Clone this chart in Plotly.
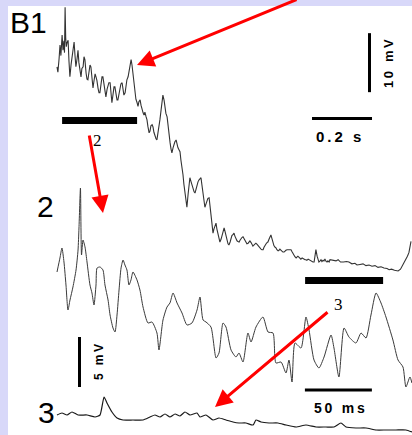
import plotly.graph_objects as go

# ---- B1: slow sweep (time in ms, membrane potential in mV, relative) ----
b1_t = [0, 3, 7, 10, 13, 17, 20, 23, 25, 27,
        29, 31, 33, 37, 40, 43, 47, 50, 53, 57,
        60, 63, 67, 70, 73, 77, 80, 83, 87, 90,
        93, 97, 100, 103, 107, 110, 113, 117, 120, 123,
        127, 130, 133, 137, 140, 143, 147, 150, 153, 157,
        160, 163, 167, 170, 173, 177, 180, 183, 187, 190,
        193, 197, 200, 203, 207, 210, 213, 217, 220, 223,
        227, 230, 233, 237, 240, 243, 247, 250, 253, 257,
        260, 263, 267, 270, 273, 277, 280, 283, 287, 290,
        293, 297, 300, 303, 307, 310, 313, 317, 320, 323,
        327, 330, 333, 337, 340, 343, 347, 350, 353, 357,
        360, 363, 367, 370, 373, 377, 380, 383, 387, 390,
        393, 397, 400, 403, 407, 410, 413, 417, 420, 423,
        427, 430, 433, 437, 440, 443, 447, 450, 453, 457,
        460, 463, 467, 470, 473, 477, 480, 483, 487, 490,
        493, 497, 500, 503, 507, 510, 513, 517, 520, 523,
        527, 530, 533, 537, 540, 543, 547, 550, 553, 557,
        560, 563, 567, 570, 573, 577, 580, 583, 587, 590,
        593, 597, 600, 603, 607, 610, 613, 617, 620, 623,
        627, 630, 633, 637, 640, 643, 647, 650, 653, 657,
        660, 663, 667, 670, 673, 677, 680, 683, 687, 690,
        693, 697, 700, 703, 707, 710, 713, 717, 720, 723,
        727, 730, 733, 737, 740, 743, 747, 750, 753, 757,
        760, 763, 767, 770, 773, 777, 780, 783, 787, 790,
        793, 797, 800, 803, 807, 810, 813, 817, 820, 823,
        827, 830, 833, 837, 840, 843, 847, 850, 853, 857,
        860, 863, 867, 870, 873, 877, 880, 883, 887, 890,
        893, 897, 900, 903, 907, 910, 920, 930, 937, 945,
        955, 965, 973, 983, 993, 1000, 1010, 1020, 1030, 1040,
        1050, 1060, 1070, 1080, 1090, 1100, 1107, 1115, 1125, 1137,
        1145, 1153, 1158, 1163, 1168, 1173, 1177, 1180]
b1_v = [34.1, 33.2, 35.5, 37.8, 36.0, 39.5, 36.9, 38.5, 36.5, 44.2,
        39.0, 37.5, 38.1, 38.6, 35.0, 32.4, 34.5, 35.8, 37.0, 38.3,
        36.0, 34.1, 35.5, 36.9, 34.8, 33.5, 32.4, 33.8, 34.1, 35.8,
        35.3, 33.0, 32.0, 31.9, 33.8, 34.4, 34.1, 32.0, 30.5, 31.6,
        32.9, 32.4, 31.8, 30.4, 29.7, 29.7, 31.2, 32.4, 32.4, 30.6,
        29.5, 29.0, 30.3, 31.0, 31.4, 31.4, 29.4, 28.0, 29.5, 30.7,
        30.7, 29.6, 28.5, 28.5, 29.8, 30.9, 31.2, 31.4, 30.2, 29.3,
        29.7, 31.0, 31.9, 32.4, 33.5, 34.4, 35.3, 34.4, 33.1, 31.5,
        29.8, 28.6, 28.0, 27.4, 28.2, 28.5, 27.6, 26.9, 26.3, 25.9,
        26.4, 25.6, 25.1, 24.0, 22.9, 23.2, 24.1, 24.3, 23.9, 23.0,
        22.2, 21.9, 21.7, 22.9, 24.0, 25.1, 26.8, 28.2, 29.3, 28.4,
        27.0, 26.2, 25.6, 23.9, 22.4, 21.2, 20.2, 19.5, 20.4, 21.1,
        21.4, 21.7, 21.0, 20.4, 20.0, 19.7, 18.3, 17.0, 15.8, 14.2,
        12.5, 11.2, 10.3, 12.5, 14.3, 15.3, 14.6, 14.0, 13.3, 12.9,
        12.7, 13.4, 14.0, 14.6, 14.9, 15.2, 15.3, 14.1, 12.6, 11.2,
        10.3, 10.9, 11.5, 11.8, 11.9, 10.4, 8.7, 7.1, 5.9, 6.6,
        7.2, 7.6, 6.6, 5.5, 4.9, 4.4, 4.9, 5.6, 6.3, 6.8,
        6.2, 5.2, 4.7, 4.1, 3.9, 4.4, 5.0, 5.5, 5.7, 5.9,
        5.4, 4.9, 4.6, 4.5, 4.4, 4.7, 5.0, 5.2, 5.3, 5.0,
        4.6, 4.3, 4.1, 4.2, 4.5, 4.6, 4.3, 4.0, 3.7, 3.9,
        4.1, 4.2, 4.0, 3.8, 3.5, 3.3, 3.2, 3.1, 3.1, 3.5,
        3.9, 4.1, 4.3, 4.4, 4.9, 5.3, 5.6, 4.9, 4.3, 3.8,
        3.5, 3.4, 3.1, 2.9, 3.0, 3.2, 3.0, 2.8, 2.7, 2.7,
        2.9, 3.0, 3.1, 3.1, 3.1, 3.0, 3.1, 2.8, 2.4, 2.1,
        1.9, 1.7, 1.9, 2.0, 1.8, 1.6, 1.5, 1.7, 1.6, 1.4,
        1.4, 1.4, 1.3, 1.5, 1.4, 1.2, 1.1, 1.1, 1.0, 1.0,
        1.8, 3.1, 2.0, 1.3, 1.0, 1.2, 1.4, 1.1, 1.3, 1.2,
        1.5, 1.1, 1.0, 1.2, 1.0, 1.4, 1.3, 1.2, 1.4, 1.0,
        1.0, 1.1, 1.0, 0.7, 0.8, 0.5, 0.6, 0.7, 0.4, 0.5,
        0.3, 0.4, 0.1, 0.2, 0.0, -0.1, -0.3, -0.2, -0.4, -0.5,
        -0.2, 0.5, 0.9, 1.4, 2.0, 2.6, 4.2, 4.5]

# ---- Segment 2 on an expanded time base ----
s2_t = [0, 2.2, 3.7, 5.2, 6.7, 8.2, 9.7, 11.9, 14.2, 15.7,
        16.4, 17.5, 18.3, 19.4, 20.9, 22.4, 24.6, 26.1, 27.6, 29.1,
        29.9, 32.1, 34.3, 35.8, 38.1, 39.6, 41.8, 43.3, 44.8, 46.3,
        47.8, 49.3, 50.7, 52.2, 53.7, 55.2, 56.7, 59.7, 61.9, 64.2,
        67.9, 70.9, 74.6, 76.1, 79.1, 82.1, 84.3, 86.6, 89.6, 93.3,
        97.0, 100.7, 104.5, 106.7, 109.0, 111.2, 114.9, 118.7, 120.9, 123.9,
        126.1, 129.9, 133.6, 135.8, 138.8, 142.5, 144.8, 148.5, 153.7, 157.5,
        161.2, 163.4, 167.2, 170.9, 173.1, 175.4, 177.6, 182.1, 185.8, 188.1,
        191.8, 195.5, 199.3, 204.5, 206.7, 210.4, 214.2, 217.9, 223.1, 226.9,
        230.6, 234.3, 238.1, 241.8, 245.5, 250.7, 254.5, 258.2, 260.4, 263.4,
        264.9]
s2_v = [7.8, 9.2, 10.2, 8.8, 6.5, 4.0, 5.0, 6.3, 8.0, 10.0,
        12.2, 16.2, 9.5, 11.0, 10.3, 8.8, 6.5, 5.7, 4.5, 6.5,
        8.2, 8.3, 8.0, 6.5, 5.0, 3.5, 2.2, 1.8, 3.5, 6.0,
        8.2, 9.0, 8.5, 8.0, 6.5, 7.0, 7.8, 7.0, 6.0, 4.3,
        2.7, 2.8, 1.7, 0.0, 3.0, 4.3, 4.7, 5.7, 4.7, 3.7,
        2.5, 2.7, 4.0, 5.3, 3.0, 2.8, 2.3, -0.8, -0.3, 2.7,
        2.3, 0.0, -0.7, -0.3, -1.2, 1.7, 0.8, 2.3, 3.3, 1.8,
        1.7, -1.3, -1.2, -2.3, -1.0, -3.2, 0.7, 0.2, 3.3, 2.0,
        -1.0, -1.8, -0.7, 1.5, 0.2, -2.7, 2.2, 1.3, 0.7, 1.7,
        1.2, 3.5, 5.7, 4.7, 3.3, 1.0, -1.0, -1.7, -3.7, -2.7,
        -3.3]

# ---- Segment 3 on the same expanded time base ----
s3_t = [0, 3.7, 7.5, 11.2, 15.7, 22.4, 28.4, 32.1, 35.1, 37.3,
        41.0, 44.8, 49.3, 56.7, 64.2, 69.4, 73.1, 76.9, 80.6, 84.3,
        88.1, 91.8, 95.5, 99.3, 104.5, 106.7, 111.2, 116.4, 120.9, 126.1,
        131.3, 135.8, 141.0, 146.3, 148.5, 152.2, 158.2, 164.9, 170.9, 178.4,
        185.8, 193.3, 200.7, 206.7, 211.9, 215.7, 223.1, 230.6, 238.1, 245.5,
        253.0, 260.4, 264.9]
s3_v = [0.5, 0.7, 0.5, 0.8, 0.5, 0.5, 0.3, 0.5, 2.3, 1.7,
        0.8, 0.2, 0.0, 0.0, 0.0, 0.3, 0.5, 0.3, 0.6, 0.3,
        0.6, 0.4, 0.8, 0.5, 0.7, 0.3, 0.5, 0.0, 0.2, 0.0,
        -0.2, -0.3, -0.3, -0.5, 0.0, -0.2, -0.3, -0.3, -0.5, -0.7,
        -0.5, -0.7, -0.7, -0.7, -0.3, -0.7, -0.8, -0.8, -1.0, -1.0,
        -1.0, -1.0, -1.2]

LAVENDER = "#d8d8f9"
SANS = "Liberation Sans, Arial, sans-serif"
SERIF = "Liberation Serif, Times New Roman, serif"
THIN = "\u2009"  # thin space used to open up the scale-bar captions


def spaced(text):
    return THIN.join(text)


fig = go.Figure()
fig.add_trace(go.Scatter(x=b1_t, y=b1_v, mode="lines", xaxis="x", yaxis="y",
                         line=dict(color="#333333", width=1.1), hoverinfo="skip"))
fig.add_trace(go.Scatter(x=s2_t, y=s2_v, mode="lines", xaxis="x2", yaxis="y2",
                         line=dict(color="#3a3a3a", width=1.0, shape="spline",
                                   smoothing=0.6),
                         hoverinfo="skip"))
fig.add_trace(go.Scatter(x=s3_t, y=s3_v, mode="lines", xaxis="x2", yaxis="y3",
                         line=dict(color="#1a1a1a", width=1.2, shape="spline",
                                   smoothing=0.5),
                         hoverinfo="skip"))

hidden = dict(visible=False, fixedrange=True, domain=[0, 1])
fig.update_layout(
    width=412, height=435,
    margin=dict(l=0, r=0, t=0, b=0),
    paper_bgcolor=LAVENDER,
    plot_bgcolor="rgba(0,0,0,0)",
    showlegend=False,
    # slow sweep: 300 px/s, 5.9 px/mV
    xaxis=dict(range=[-190, 1183.3], **hidden),
    yaxis=dict(range=[-28.31, 45.42], **hidden),
    # expanded sweeps: 50 ms per 67 px, 10 px/mV
    xaxis2=dict(range=[-42.54, 264.93], overlaying="x", **hidden),
    yaxis2=dict(range=[-8.5, 35.0], overlaying="y", **hidden),
    yaxis3=dict(range=[-1.5, 42.0], overlaying="y", **hidden),
    # page frame for labels and decorations
    xaxis4=dict(range=[0, 412], overlaying="x", **hidden),
    yaxis4=dict(range=[435, 0], overlaying="y", **hidden),
)

shapes = [
    # white panel
    dict(type="rect", xref="x4", yref="y4", x0=8, x1=412, y0=6, y1=435,
         fillcolor="white", line=dict(width=0), layer="below"),
    # analysed segments under the slow sweep
    dict(type="rect", xref="x", yref="y4", x0=17, x1=267, y0=117, y1=124,
         fillcolor="black", line=dict(width=0)),
    dict(type="rect", xref="x", yref="y4", x0=827, x1=1087, y0=277, y1=284,
         fillcolor="black", line=dict(width=0)),
    # scale bars, slow sweep: 10 mV and 0.2 s
    dict(type="rect", xref="x4", yref="y", x0=368, x1=371, y0=29.8, y1=39.8,
         fillcolor="black", line=dict(width=0)),
    dict(type="rect", xref="x", yref="y4", x0=850, x1=1050, y0=117, y1=120,
         fillcolor="black", line=dict(width=0)),
    # scale bars, expanded sweeps: 5 mV and 50 ms
    dict(type="rect", xref="x4", yref="y2", x0=78, x1=81, y0=-3.7, y1=1.3,
         fillcolor="black", line=dict(width=0)),
    dict(type="rect", xref="x2", yref="y4", x0=185, x1=235, y0=388.5, y1=391.5,
         fillcolor="black", line=dict(width=0)),
]
fig.update_layout(shapes=shapes)


def label(text, x, y, size, family=SANS, angle=0, bold=False):
    return dict(text=f"<b>{text}</b>" if bold else text, x=x, y=y,
                xref="x4", yref="y4", showarrow=False, textangle=angle,
                xanchor="center", yanchor="middle",
                font=dict(family=family, size=size, color="black"))


def arrow(x_tail, y_tail, x_tip, y_tip):
    return dict(text="", x=x_tip, y=y_tip, ax=x_tail, ay=y_tail,
                xref="x4", yref="y4", axref="x4", ayref="y4",
                showarrow=True, arrowhead=2, arrowsize=1.15, arrowwidth=3,
                arrowcolor="#ff0000", standoff=0, startstandoff=0)


annotations = [
    label("B1", 28, 22, 30),
    label("2", 45, 206, 30),
    label("3", 46.5, 412, 30),
    label("2", 97, 140, 17, family=SERIF),
    label("3", 338, 304, 17, family=SERIF),
    label(spaced("10 mV"), 388, 64, 13, angle=-90, bold=True),
    label(spaced("0.2 s"), 338, 136, 15, bold=True),
    label(spaced("5 mV"), 99, 362, 12, angle=-90, bold=True),
    label(spaced("50 ms"), 339, 408, 14, bold=True),
    arrow(298, -1, 137, 65),
    arrow(89, 134, 103, 213),
    arrow(329, 311, 215, 407),
]
fig.update_layout(annotations=annotations)

fig.write_html("out.html")
